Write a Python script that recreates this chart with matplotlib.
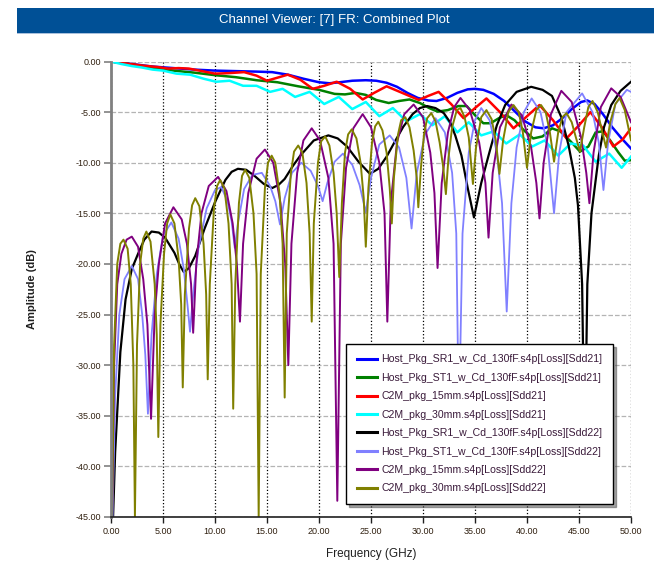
import numpy as np
import matplotlib.pyplot as plt
from matplotlib.patches import Rectangle

plt.rcParams['font.family'] = ['Liberation Sans', 'DejaVu Sans']

# Sdd21 (insertion loss) curves, freq in GHz, amplitude in dB
sr1_sdd21_f = [0, 2, 4, 6, 8, 10, 12, 14, 15.5, 17, 18.5, 20, 21, 22, 23.2, 24.5, 25.5, 26.5,
               27.5, 28.5, 29.5, 30.5, 31.3, 32.3, 33.3, 34.3, 35.0, 35.8, 36.8, 37.8, 38.8,
               39.8, 40.8, 41.6, 42.5, 43.4, 44.3, 45.2, 45.8, 46.5, 47.3, 48.2, 49.1, 50.0]
sr1_sdd21_db = [0, -0.25, -0.5, -0.65, -0.8, -0.9, -0.95, -1.0, -1.05, -1.3, -1.7, -2.05, -2.15,
                -2.05, -1.9, -1.85, -1.9, -2.1, -2.5, -3.1, -3.6, -3.85, -3.9, -3.6, -3.1, -2.75,
                -2.7, -2.8, -3.2, -3.9, -4.9, -5.9, -6.5, -6.6, -6.3, -5.6, -4.7, -4.0, -3.85,
                -4.2, -5.2, -6.5, -7.6, -8.6]

st1_sdd21_f = [0, 2, 4, 6, 8, 10, 12, 14, 16, 18, 20, 21.5, 22.5, 23.5, 24.5, 25.5, 26.7, 27.7,
               28.7, 29.7, 30.6, 31.4, 32.4, 33.4, 34.2, 35.0, 35.8, 36.5, 37.3, 38.0, 38.8,
               39.7, 40.6, 41.5, 42.4, 43.2, 44.2, 45.1, 45.9, 46.6, 47.3, 48.0, 48.8, 49.4, 50.0]
st1_sdd21_db = [0, -0.3, -0.6, -0.9, -1.1, -1.35, -1.55, -1.85, -2.05, -2.45, -2.8, -3.2, -3.25,
                -3.1, -3.3, -3.8, -4.1, -3.9, -3.75, -4.1, -4.6, -4.95, -4.8, -4.4, -4.4, -5.3,
                -6.1, -6.1, -5.6, -5.3, -5.8, -6.8, -7.6, -7.4, -6.6, -6.9, -7.9, -8.9, -8.4,
                -7.0, -6.9, -7.8, -9.0, -9.8, -9.75]

c15_sdd21_f = [0, 1.5, 3, 4.5, 5.5, 6.5, 7.5, 8.5, 10.0, 11.3, 12.8, 14.0, 15.0, 16.0, 17.0, 18.2,
               19.4, 20.5, 21.7, 23.0, 24.2, 25.3, 26.5, 28.0, 29.6, 30.5, 31.5, 32.7, 33.9,
               35.0, 36.1, 37.4, 38.7, 39.9, 41.2, 42.5, 43.8, 45.0, 46.1, 47.2, 48.3, 49.2, 50.0]
c15_sdd21_db = [0, -0.2, -0.4, -0.55, -0.7, -0.65, -0.7, -0.9, -1.2, -1.15, -1.05, -1.4, -1.9,
                -1.6, -1.3, -1.8, -2.7, -2.4, -2.0, -2.7, -3.75, -3.1, -2.45, -3.1, -3.8, -3.4,
                -3.0, -4.2, -5.6, -4.6, -3.65, -5.0, -6.6, -5.5, -4.3, -5.8, -7.6, -6.3, -5.0,
                -6.5, -8.4, -7.7, -6.6]

c30_sdd21_f = [0, 1, 2, 3, 4, 5, 6.3, 7.6, 8.9, 10.1, 11.4, 12.7, 14, 15.3, 16.5, 17.7, 19.1,
               20.5, 21.9, 23.2, 24.5, 25.8, 27.1, 28.4, 29.7, 30.9, 32.1, 33.3, 34.4, 35.6,
               36.8, 38.0, 39.3, 40.5, 41.7, 43.0, 44.2, 45.4, 46.6, 47.9, 49.1, 50]
c30_sdd21_db = [0, -0.25, -0.45, -0.6, -0.8, -0.9, -1.2, -1.3, -1.7, -2.0, -1.9, -2.4, -2.4,
                -3.0, -2.7, -3.5, -3.0, -4.2, -3.5, -4.7, -4.0, -5.4, -4.6, -5.9, -5.2, -6.3,
                -5.4, -7.0, -6.0, -7.3, -6.9, -8.1, -7.2, -8.4, -7.8, -9.3, -8.1, -8.3, -9.9,
                -9.1, -10.5, -9.4]

# Sdd22 (return loss) curves
sr1_sdd22_f = [0.2, 0.4, 0.9, 1.4, 2.0, 2.6, 3.2, 3.9, 4.6, 5.2, 6.1, 6.6, 7.0, 7.5, 8.1, 9.0,
               10.0, 11.0, 11.6, 12.2, 13.0, 13.8, 14.7, 15.5, 16.1, 16.7, 17.5, 18.2, 19.5,
               20.9, 21.8, 22.7, 23.8, 24.9, 25.7, 26.5, 27.3, 28.1, 29.0, 29.7, 30.4, 31.2,
               32.0, 32.6, 33.1, 33.7, 34.3, 34.9, 35.6, 36.3, 37.1, 37.9, 39.0, 40.4, 41.5,
               42.4, 43.3, 44.0, 44.6, 44.9, 45.3, 45.55, 45.8, 46.2, 46.9, 47.4, 48.1, 49.0, 50.0]
sr1_sdd22_db = [-45, -38.6, -28.7, -23.5, -20.5, -19.0, -17.6, -16.8, -16.9, -17.4, -18.9, -20.1,
                -20.8, -20.4, -19.2, -16.5, -13.9, -11.7, -10.9, -10.6, -10.7, -11.3, -12.1,
                -12.5, -12.2, -11.6, -10.3, -9.3, -7.8, -7.3, -7.6, -8.4, -9.9, -11.1, -10.6,
                -9.4, -7.9, -6.45, -5.2, -4.6, -4.4, -4.6, -5.1, -6.0, -7.3, -9.3, -12.5, -15.4,
                -12.0, -9.3, -6.3, -4.3, -3.0, -2.5, -2.8, -3.4, -5.5, -8.3, -11.5, -14.2, -22,
                -40, -22, -15, -9.3, -6.5, -4.3, -2.9, -2.0]

st1_sdd22_f = [0.15, 0.4, 0.8, 1.3, 2.0, 2.6, 3.0, 3.3, 3.55, 3.9, 4.4, 5.0, 5.8, 6.5, 7.0, 7.35,
               7.6, 7.9, 8.4, 9.2, 10.0, 10.6, 11.2, 11.6, 11.9, 12.2, 12.8, 13.6, 14.5, 15.3,
               15.8, 16.25, 16.7, 17.4, 18.3, 19.2, 19.9, 20.35, 20.8, 21.5, 22.3, 23.2, 23.9,
               24.5, 25.0, 25.8, 26.8, 27.7, 28.4, 28.9, 29.4, 30.2, 31.2, 32.1, 32.8, 33.2,
               33.45, 33.8, 34.4, 35.0, 35.6, 36.4, 37.1, 37.6, 38.05, 38.5, 39.0, 39.7, 40.45,
               41.3, 42.0, 42.6, 43.1, 43.8, 45.3, 46.3, 46.9, 47.35, 47.8, 48.5, 49.6, 50.0]
st1_sdd22_db = [-45, -33, -25, -21.5, -20.2, -21.5, -25, -29, -34.8, -27, -21, -17.2, -15.9,
                -17.5, -20.5, -24, -26.7, -23, -18.5, -14.5, -12.7, -12.4, -13.8, -15.8, -18.4,
                -16, -12.6, -11.2, -11.0, -12.3, -13.8, -16.1, -13.5, -11, -10.0, -10.8, -12.3,
                -13.8, -12, -9.9, -9.1, -10.2, -12.2, -14.9, -11.5, -8.2, -7.3, -8.5, -11.5,
                -16.5, -11, -7.2, -5.6, -7.0, -11, -17, -36, -17, -9, -5.8, -4.6, -5.8, -9, -14,
                -24.7, -14, -8.5, -5, -3.65, -5, -8.5, -15.0, -9, -5, -3.15, -5, -8, -12.7, -8,
                -4.2, -2.8, -3.0]

c15_sdd22_f = [0.1, 0.3, 0.6, 1.0, 1.5, 2.0, 2.6, 3.1, 3.5, 3.85, 4.2, 4.6, 5.2, 6.0, 6.8, 7.3,
               7.7, 7.9, 8.2, 8.7, 9.4, 10.3, 11.1, 11.7, 12.1, 12.4, 12.7, 13.2, 14.0, 14.8,
               15.6, 16.3, 16.75, 17.05, 17.35, 17.9, 18.5, 19.3, 20.1, 20.9, 21.4, 21.76, 22.1,
               22.6, 23.3, 24.2, 25.0, 25.8, 26.3, 26.57, 26.9, 27.5, 28.2, 29.1, 30.0, 30.7,
               31.1, 31.4, 31.8, 32.4, 33.0, 33.6, 34.5, 35.4, 36.0, 36.3, 36.7, 37.4, 38.5,
               39.5, 40.4, 40.9, 41.2, 41.6, 42.3, 43.3, 44.3, 45.2, 45.7, 46.0, 46.4, 47.1,
               48.1, 49.0, 50.0]
c15_sdd22_db = [-45, -30, -22, -19, -17.6, -17.3, -18.3, -21.5, -26, -35.3, -25, -20, -16, -14.4,
                -15.6, -18, -22, -26.8, -20, -15, -12.3, -11.4, -12.8, -16, -20, -25.7, -18, -13,
                -9.6, -8.7, -10, -14, -20, -30, -18, -11, -7.8, -6.6, -7.8, -11.5, -18, -43.4,
                -18, -10.5, -6.6, -5.2, -6.5, -10, -15, -25.7, -14, -8, -5.2, -4.25, -5.5, -9,
                -13, -20.4, -12, -7, -4.5, -3.6, -4.8, -8, -12, -17.4, -11, -6.5, -4.25, -5.3,
                -8.5, -12, -15.5, -10, -5.2, -2.9, -4.0, -7.5, -11, -14.0, -9, -4.5, -2.65, -3.5,
                -6.0]

c30_sdd22_f = [0.1, 0.3, 0.6, 0.9, 1.2, 1.6, 1.9, 2.15, 2.3, 2.5, 2.8, 3.1, 3.4, 3.8, 4.2, 4.4,
               4.55, 4.75, 5.1, 5.4, 5.7, 6.1, 6.5, 6.75, 6.9, 7.1, 7.5, 7.8, 8.1, 8.5, 8.9, 9.15,
               9.3, 9.5, 9.9, 10.2, 10.5, 10.9, 11.3, 11.6, 11.75, 11.95, 12.3, 12.6, 12.9, 13.3,
               13.7, 14.0, 14.2, 14.4, 14.8, 15.1, 15.45, 15.8, 16.2, 16.5, 16.7, 16.9, 17.3,
               17.6, 18.0, 18.4, 18.8, 19.1, 19.3, 19.5, 19.9, 20.2, 20.6, 21.0, 21.4, 21.7,
               21.95, 22.2, 22.5, 22.8, 23.15, 23.6, 24.0, 24.3, 24.5, 24.75, 25.1, 25.4, 25.7,
               26.1, 26.5, 26.8, 27.0, 27.2, 27.6, 27.9, 28.3, 28.7, 29.1, 29.4, 29.55, 29.8,
               30.1, 30.4, 30.8, 31.2, 31.6, 31.95, 32.2, 32.45, 32.8, 33.25, 33.6, 34.0, 34.4,
               34.8, 35.1, 35.6, 36.1, 36.6, 37.0, 37.35, 37.7, 38.2, 38.7, 39.2, 39.6, 40.0,
               40.4, 40.9, 41.35, 41.8, 42.2, 42.6, 43.0, 43.4, 43.8, 44.3, 44.7, 45.1, 45.5,
               45.9, 46.3, 46.8, 47.2, 47.6, 48.0, 48.5, 48.9, 49.4, 50.0]
c30_sdd22_db = [-45, -28, -20, -18, -17.6, -18.5, -22, -30, -45, -28, -20, -17.5, -16.8, -17.8,
                -22, -27, -37.1, -26, -19, -16, -15.1, -16, -19.5, -24, -32.2, -23, -16.5, -14.2,
                -13.5, -14.3, -18, -23, -31.4, -22, -14.5, -12.3, -11.7, -12.5, -16, -22, -34.3,
                -22, -14, -11.3, -10.7, -11.5, -15, -21, -45, -21, -12.5, -10, -9.3, -10, -13,
                -18, -33.2, -17, -11, -8.9, -8.3, -9.0, -12, -17, -25.7, -16, -10, -7.9, -7.4,
                -8.3, -11, -15, -21.3, -14, -9, -7.2, -6.7, -7.6, -10, -13.5, -18.3, -12.5, -8,
                -6.4, -5.95, -6.8, -9, -12.5, -16, -11.5, -7.2, -5.8, -5.5, -6.5, -8.8, -11.5,
                -14.4, -10.5, -7.2, -5.6, -5.1, -5.9, -8, -10.5, -13.1, -9.5, -6.5, -4.8, -4.6,
                -5.5, -7.5, -12.1, -8.5, -5.5, -4.8, -5.7, -7.8, -11.1, -7.8, -5, -4.3, -5, -7,
                -10.5, -7, -4.8, -4.3, -5, -7, -9.9, -7, -5.5, -5.1, -6, -7.5, -8.9, -6.5, -4.5,
                -3.9, -5, -6.8, -8.5, -6, -4.2, -3.6, -4.8, -7.8]

series = [
    (sr1_sdd21_f, sr1_sdd21_db, '#0000ff', 1.8, 'Host_Pkg_SR1_w_Cd_130fF.s4p[Loss][Sdd21]'),
    (st1_sdd21_f, st1_sdd21_db, '#008000', 1.8, 'Host_Pkg_ST1_w_Cd_130fF.s4p[Loss][Sdd21]'),
    (c15_sdd21_f, c15_sdd21_db, '#ff0000', 1.8, 'C2M_pkg_15mm.s4p[Loss][Sdd21]'),
    (c30_sdd21_f, c30_sdd21_db, '#00ffff', 1.8, 'C2M_pkg_30mm.s4p[Loss][Sdd21]'),
    (sr1_sdd22_f, sr1_sdd22_db, '#000000', 1.6, 'Host_Pkg_SR1_w_Cd_130fF.s4p[Loss][Sdd22]'),
    (st1_sdd22_f, st1_sdd22_db, '#8080ff', 1.3, 'Host_Pkg_ST1_w_Cd_130fF.s4p[Loss][Sdd22]'),
    (c15_sdd22_f, c15_sdd22_db, '#800080', 1.4, 'C2M_pkg_15mm.s4p[Loss][Sdd22]'),
    (c30_sdd22_f, c30_sdd22_db, '#808000', 1.4, 'C2M_pkg_30mm.s4p[Loss][Sdd22]'),
]

x_ticks = np.arange(0, 50.1, 5)
y_ticks = np.arange(-45, 0.1, 5)

fig = plt.figure(figsize=(6.54, 5.61), dpi=100)

# title bar
fig.patches.append(Rectangle((17 / 654, 1 - 33 / 561), 1 - 17 / 654, 25 / 561,
                             transform=fig.transFigure, facecolor='#005096',
                             edgecolor='none'))
fig.patches.append(Rectangle((17 / 654, 1 - 34 / 561), 1 - 17 / 654, 1.2 / 561,
                             transform=fig.transFigure, facecolor='#a8c0dc',
                             edgecolor='none'))
fig.text(334 / 654, 1 - 20.5 / 561, 'Channel Viewer: [7] FR: Combined Plot', color='white',
         fontsize=9.5, ha='center', va='center')

ax = fig.add_axes([111 / 654, 1 - 517 / 561, 520 / 654, 455.5 / 561])
for f, db, col, lw, lab in series:
    ax.plot(f, db, color=col, lw=lw, label=lab)

ax.set_xlim(0, 50)
ax.set_ylim(-45, 0)
ax.set_xticks(x_ticks)
ax.set_yticks(y_ticks)
ax.set_xticklabels(['%.2f' % v for v in x_ticks])
ax.set_yticklabels(['%.2f' % v for v in y_ticks])

ax.xaxis.grid(True, color='black', linestyle=':', lw=0.9)
ax.yaxis.grid(True, color='#b4b4b4', linestyle='--', lw=0.9)
ax.set_axisbelow(True)

for s in ['top', 'right']:
    ax.spines[s].set_visible(False)
ax.spines['left'].set_color('#808080')
ax.spines['left'].set_linewidth(2)
ax.spines['bottom'].set_color('#202020')
ax.spines['bottom'].set_linewidth(1.2)

ax.tick_params(axis='y', length=5, width=1.2, color='#808080', labelsize=6.5,
               labelcolor='#302010', pad=2)
ax.tick_params(axis='x', length=4, width=1, color='#202020', labelsize=6.5,
               labelcolor='#302010', pad=3)

ax.set_xlabel('Frequency (GHz)', fontsize=8.5, color='#202020', labelpad=9)
ax.set_ylabel('Amplitude (dB)', fontsize=8, color='#202020', fontweight='bold', labelpad=28)

leg = ax.legend(loc='lower left', bbox_to_anchor=(0.452, 0.0285), fontsize=7.6,
                borderaxespad=0, frameon=True, fancybox=False, shadow=True, framealpha=1,
                edgecolor='black', labelcolor='#3a1a3a', handlelength=1.9,
                handletextpad=0.45, labelspacing=0.8, borderpad=1.0)
leg.get_frame().set_linewidth(1)
leg.set_zorder(10)
for h in leg.get_lines():
    h.set_linewidth(2.2)

fig.savefig('out.png', dpi=100)
